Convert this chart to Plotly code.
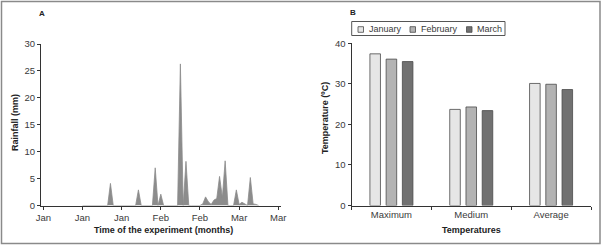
import plotly.graph_objects as go

# ---------------- data ----------------
# Panel A: daily rainfall (day index from 1 January)
rain_days = list(range(14, 78))
rain_mm = [0, 0, 0, 0, 0, 0, 0, 0, 0, 0,      # 14-23
           4.1, 0, 0, 0, 0, 0, 0, 0, 0, 0,    # 24-33
           2.9, 0, 0, 0, 0, 0, 7.0, 0, 2.1, 0,  # 34-43
           0, 0, 0, 0, 0, 26.3, 0, 8.2, 0, 0,   # 44-53
           0, 0, 0, 0.3, 1.6, 0.7, 0.2, 1.0, 1.3, 5.4,  # 54-63
           1.5, 8.3, 0, 0, 0, 2.9, 0.2, 0.6, 0.3, 0,    # 64-73
           5.2, 0.3, 0.2, 0]                            # 74-77
month_tick_days = [0, 14, 28, 42, 56, 70, 84]
month_tick_labels = ["Jan", "Jan", "Jan", "Feb", "Feb", "Mar", "Mar"]
rain_yticks = [0, 5, 10, 15, 20, 25, 30]

# Panel B: temperatures
temp_categories = ["Maximum", "Medium", "Average"]
temp_january = [37.4, 23.7, 30.1]
temp_february = [36.1, 24.3, 29.9]
temp_march = [35.5, 23.4, 28.6]
month_names = ["January", "February", "March"]
temp_yticks = [0, 10, 20, 30, 40]

# ---------------- styling ----------------
W, H = 602, 247
FONT = "Liberation Sans Narrow, Arial Narrow, Liberation Sans, Arial, sans-serif"
TICKC = "#3a3a3a"
AXC = "#333333"
TITC = "#222222"
bar_colors = ["#e6e6e6", "#b3b3b3", "#717171"]


def px_x(p):
    return p / W


def px_y(p):
    return 1 - p / H


fig = go.Figure()

fig.add_trace(go.Scatter(
    x=rain_days, y=rain_mm, mode="lines", fill="tozeroy",
    line=dict(color="#8c8c8c", width=0.8), fillcolor="#8c8c8c",
    xaxis="x", yaxis="y", showlegend=False, hoverinfo="skip"))

for name, vals, col in zip(month_names, [temp_january, temp_february, temp_march], bar_colors):
    fig.add_trace(go.Bar(
        x=temp_categories, y=vals, name=name,
        marker=dict(color=col, line=dict(color="#4a4a4a", width=0.8)),
        xaxis="x2", yaxis="y2", showlegend=False))

axis_common = dict(showline=True, linecolor=AXC, linewidth=1, ticks="outside",
                   ticklen=3, tickcolor=AXC, showgrid=False, zeroline=False,
                   automargin=False,
                   tickfont=dict(family=FONT, size=9.5, color=TICKC))

fig.update_layout(
    width=W, height=H, margin=dict(l=0, r=0, t=0, b=0, autoexpand=False),
    paper_bgcolor="white", plot_bgcolor="white",
    barmode="group", bargap=0.39, bargroupgap=0.35,
    font=dict(family=FONT, size=10, color=TICKC),
    xaxis=dict(domain=[px_x(41), px_x(281)], range=[-0.82, 84.96],
               tickmode="array", tickvals=month_tick_days, ticktext=month_tick_labels,
               anchor="y", **axis_common),
    yaxis=dict(domain=[px_y(205.5), px_y(44)], range=[0, 30],
               tickmode="array", tickvals=rain_yticks, anchor="x",
               **axis_common),
    xaxis2=dict(domain=[px_x(351.5), px_x(591)], range=[-0.5, 2.5],
                type="category", tickson="boundaries", anchor="y2",
                **axis_common),
    yaxis2=dict(domain=[px_y(205.5), px_y(43.3)], range=[0, 40],
                tickmode="array", tickvals=temp_yticks, anchor="x2",
                **axis_common),
)

# axis titles
title_font = dict(family=FONT, size=9, color=TITC)
fig.add_annotation(text="<b>Time of the experiment (months)</b>", xref="paper", yref="paper",
                   x=px_x(163), y=px_y(230), xanchor="center", yanchor="middle",
                   showarrow=False, font=title_font)
fig.add_annotation(text="<b>Rainfall (mm)</b>", xref="paper", yref="paper",
                   x=px_x(15), y=px_y(123), xanchor="center", yanchor="middle",
                   textangle=-90, showarrow=False, font=title_font)
fig.add_annotation(text="<b>Temperatures</b>", xref="paper", yref="paper",
                   x=px_x(471), y=px_y(229.5), xanchor="center", yanchor="middle",
                   showarrow=False, font=title_font)
fig.add_annotation(text="<b>Temperature (ºC)</b>", xref="paper", yref="paper",
                   x=px_x(325), y=px_y(118), xanchor="center", yanchor="middle",
                   textangle=-90, showarrow=False, font=title_font)

# outer frame
fig.add_shape(type="rect", xref="paper", yref="paper",
              x0=px_x(1.5), x1=px_x(600), y0=px_y(243.5), y1=px_y(1.5),
              line=dict(color="#8a8a8a", width=1.5))

# panel letters
fig.add_annotation(text="<b>A</b>", xref="paper", yref="paper", x=px_x(42), y=px_y(14),
                   xanchor="center", yanchor="middle",
                   showarrow=False, font=dict(family=FONT, size=8, color=TITC))
fig.add_annotation(text="<b>B</b>", xref="paper", yref="paper", x=px_x(353), y=px_y(12),
                   xanchor="center", yanchor="middle",
                   showarrow=False, font=dict(family=FONT, size=8, color=TITC))

# compact legend box (panel B)
fig.add_shape(type="rect", xref="paper", yref="paper",
              x0=px_x(351.7), x1=px_x(505), y0=px_y(35.5), y1=px_y(21.5),
              line=dict(color="#555555", width=1), fillcolor="white")
legend_sq_x = [358, 410, 466.5]
for sx, name, col in zip(legend_sq_x, month_names, bar_colors):
    fig.add_shape(type="rect", xref="paper", yref="paper",
                  x0=px_x(sx), x1=px_x(sx + 5.5), y0=px_y(32.3), y1=px_y(26.7),
                  line=dict(color="#4a4a4a", width=0.8), fillcolor=col)
    fig.add_annotation(text=name, xref="paper", yref="paper", x=px_x(sx + 8.5), y=px_y(29.2),
                       xanchor="left", yanchor="middle", showarrow=False,
                       font=dict(family=FONT, size=9, color=TICKC))

fig.write_html("out.html", config={"displayModeBar": False},
               post_script="document.body.style.margin='0px';"
                           "document.body.style.overflow='hidden';")
